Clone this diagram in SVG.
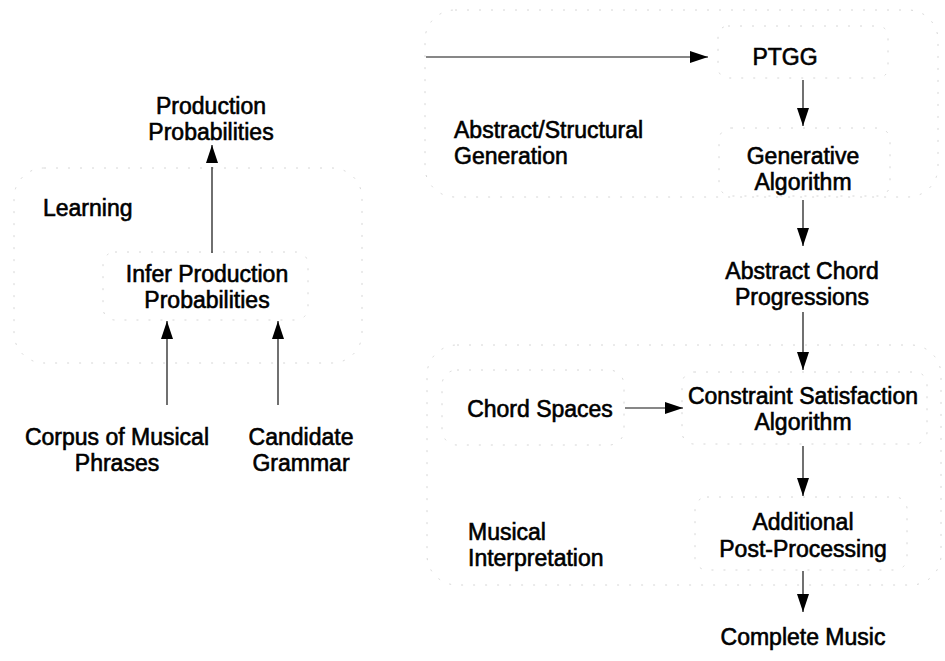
<svg xmlns="http://www.w3.org/2000/svg" width="945" height="661" viewBox="0 0 945 661">
  <style>
    .t { font-family: "Liberation Sans", Arial, sans-serif; font-size: 23px; fill: #000; stroke: #000; stroke-width: 0.6; }
    .c { text-anchor: middle; }
    .frame { fill: none; stroke: #d6d6d6; stroke-width: 1; stroke-dasharray: 2 10; }
    .edge { fill: none; stroke: #111; stroke-width: 1.2; }
  </style>
  <defs>
    <marker id="arrow" viewBox="0 0 18 12" refX="18" refY="6" markerWidth="18" markerHeight="12" markerUnits="userSpaceOnUse" orient="auto">
      <path d="M0,0 L18,6 L0,12 Z" fill="#000"/>
    </marker>
  </defs>

  <!-- grouping frames -->
  <g id="group-learning">
    <rect class="frame" x="14" y="168" width="348" height="195" rx="30"/>
    <text class="t" x="43" y="216">Learning</text>
  </g>
  <g id="group-abstract">
    <rect class="frame" x="425" y="10" width="513" height="187" rx="30"/>
    <text class="t" x="454" y="138">Abstract/Structural</text>
    <text class="t" x="454" y="164">Generation</text>
  </g>
  <g id="group-musical">
    <rect class="frame" x="427" y="345" width="514" height="240" rx="30"/>
    <text class="t" x="468" y="540">Musical</text>
    <text class="t" x="468" y="566">Interpretation</text>
  </g>

  <!-- nodes -->
  <g id="production-probabilities">
    <text class="t c" x="211" y="114">Production</text>
    <text class="t c" x="211" y="140">Probabilities</text>
  </g>
  <g id="infer-production-probabilities">
    <rect class="frame" x="103" y="252" width="205" height="68" rx="12"/>
    <text class="t c" x="207" y="282">Infer Production</text>
    <text class="t c" x="207" y="308">Probabilities</text>
  </g>
  <g id="corpus">
    <text class="t c" x="117" y="445">Corpus of Musical</text>
    <text class="t c" x="117" y="471">Phrases</text>
  </g>
  <g id="candidate-grammar">
    <text class="t c" x="301" y="445">Candidate</text>
    <text class="t c" x="301" y="471">Grammar</text>
  </g>
  <g id="ptgg">
    <rect class="frame" x="718" y="26" width="170" height="52" rx="10"/>
    <text class="t c" x="785" y="65">PTGG</text>
  </g>
  <g id="generative-algorithm">
    <rect class="frame" x="719" y="128" width="171" height="68" rx="12"/>
    <text class="t c" x="803" y="164">Generative</text>
    <text class="t c" x="803" y="190">Algorithm</text>
  </g>
  <g id="abstract-chord-progressions">
    <text class="t c" x="802" y="279">Abstract Chord</text>
    <text class="t c" x="802" y="305">Progressions</text>
  </g>
  <g id="chord-spaces">
    <rect class="frame" x="442" y="370" width="182" height="75" rx="15"/>
    <text class="t c" x="540" y="417">Chord Spaces</text>
  </g>
  <g id="constraint-satisfaction">
    <rect class="frame" x="682" y="372" width="245" height="72" rx="12"/>
    <text class="t c" x="803" y="404">Constraint Satisfaction</text>
    <text class="t c" x="803" y="430">Algorithm</text>
  </g>
  <g id="post-processing">
    <rect class="frame" x="695" y="497" width="212" height="73" rx="12"/>
    <text class="t c" x="803" y="530">Additional</text>
    <text class="t c" x="803" y="557">Post-Processing</text>
  </g>
  <g id="complete-music">
    <text class="t c" x="803" y="645">Complete Music</text>
  </g>

  <!-- connectors -->
  <g id="connectors">
    <path class="edge" d="M212,253 V167 M212,162 V145" marker-end="url(#arrow)"/>
    <path class="edge" d="M167,405 V321" marker-end="url(#arrow)"/>
    <path class="edge" d="M278,405 V321" marker-end="url(#arrow)"/>
    <path class="edge" d="M426,57 H708" marker-end="url(#arrow)"/>
    <path class="edge" d="M803,80 V126" marker-end="url(#arrow)"/>
    <path class="edge" d="M803,200 V246" marker-end="url(#arrow)"/>
    <path class="edge" d="M803,312 V370" marker-end="url(#arrow)"/>
    <path class="edge" d="M625,408 H683" marker-end="url(#arrow)"/>
    <path class="edge" d="M803,446 V496" marker-end="url(#arrow)"/>
    <path class="edge" d="M803,571 V612" marker-end="url(#arrow)"/>
  </g>
</svg>
